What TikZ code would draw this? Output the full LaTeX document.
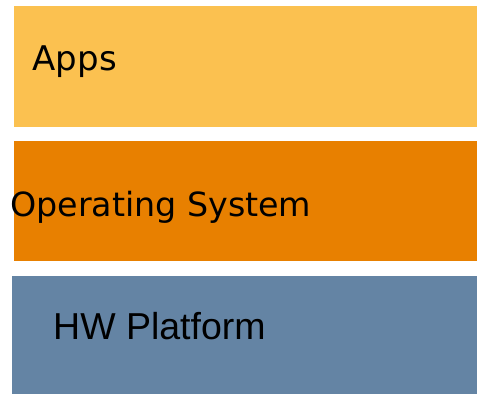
\documentclass[tikz,border=0pt]{standalone}
\usepackage{fontspec}
\newfontfamily\dejavu{DejaVu Sans}
\newfontfamily\libsans{Liberation Sans}
\definecolor{appsc}{HTML}{FBC150}
\definecolor{osc}{HTML}{E88000}
\definecolor{hwc}{HTML}{6484A4}
\begin{document}
\begin{tikzpicture}[x=1pt,y=1pt,
  layer/.style={inner sep=0pt, outer sep=0pt},
  lbl/.style={anchor=base west, inner sep=0pt, text=black}]
\useasboundingbox (0,0) rectangle (477,394);
\fill[appsc] (14,267) rectangle (477,388);
\node[layer] (apps) at (245.5,327.5) {};
\fill[osc] (14,133) rectangle (477,253);
\node[layer] (os) at (245.5,193) {};
\fill[hwc] (12,0) rectangle (477,118);
\node[layer] (hw) at (244.5,59) {};
\node[lbl, font=\dejavu\fontsize{34}{40}\selectfont] (appst) at (32.5,323) {Apps};
\node[lbl, font=\dejavu\fontsize{33.3}{40}\selectfont] (ost) at (10,177) {Operating System};
\node[lbl, font=\libsans\fontsize{37.5}{44}\selectfont] (hwt) at (53,54) {HW Platform};
\end{tikzpicture}
\end{document}
